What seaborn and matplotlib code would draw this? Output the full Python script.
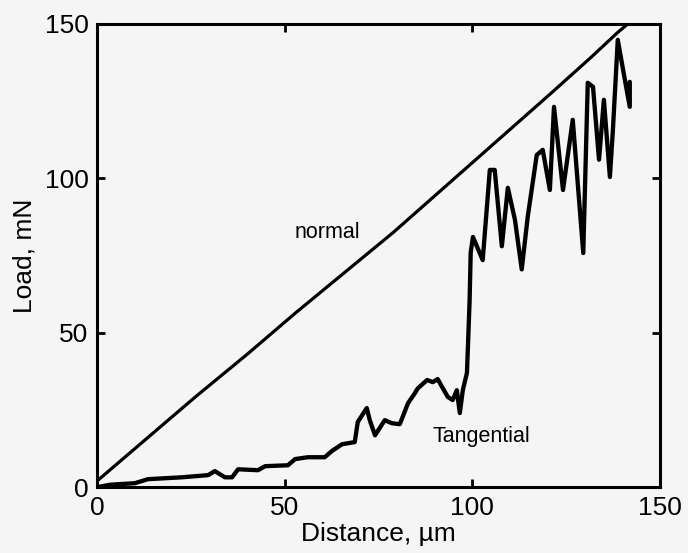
import pandas as pd
import seaborn as sns
import matplotlib.pyplot as plt

# normal load
normal_x = [0, 13, 26, 40, 53, 66, 79, 93, 107, 121, 132, 138.6, 142]
normal_y = [2, 15.5, 29, 43, 56.5, 69.5, 82.5, 97.5, 112.5, 127.5, 139.5, 147, 150.5]

# tangential load
tang_x = [0, 3.5, 10.1, 13.6, 22.6, 29.6, 31.4, 34.1, 36, 37.6, 42.9, 44.8, 50.9,
          52.8, 56.2, 60.7, 62.6, 65.3, 68.7, 69.5, 71.9, 72.7, 74.1, 76.7, 78.6,
          80.7, 82.9, 84.7, 85.5, 88, 89.5, 90.8, 92, 93.5, 94.8, 95.9, 96.7, 97.5,
          98.6, 99.3, 99.6, 100.2, 102.8, 104.7, 106, 107.9, 109.5, 111.4, 113.2,
          114.8, 117.2, 118.8, 120.7, 121.8, 124.2, 126.8, 129.6, 130.8, 132.2,
          133.8, 135.1, 136.7, 137.5, 138.8, 140.7, 142, 142]
tang_y = [0, 0.8, 1.3, 2.6, 3.2, 3.9, 5.2, 3.2, 3.2, 5.8, 5.5, 6.8, 7.1,
          9.1, 9.7, 9.7, 11.7, 13.9, 14.6, 21.1, 25.6, 21.7, 16.8, 21.7, 20.7,
          20.4, 27.2, 30.4, 32, 34.7, 34, 35, 32.4, 29.2, 28.2, 31.4, 24, 31.4,
          37, 60, 76, 81, 73.5, 102.7, 102.7, 78, 96.9, 86.5, 70.5,
          87.5, 107.5, 109.2, 96.2, 123.1, 96.2, 118.9, 75.8, 130.9, 129.6,
          106, 125.4, 100.4, 115.6, 144.8, 131.8, 123.1, 131.2]

df_n = pd.DataFrame({'Distance': normal_x, 'Load': normal_y})
df_t = pd.DataFrame({'Distance': tang_x, 'Load': tang_y})

sns.set_style('ticks')
plt.rcParams['font.family'] = ['Liberation Sans', 'DejaVu Sans']
plt.rcParams['text.color'] = 'black'
plt.rcParams['axes.labelcolor'] = 'black'

bg = '#f5f5f5'
fig = plt.figure(figsize=(6.88, 5.53), dpi=100, facecolor=bg)
ax = fig.add_axes([0.141, 0.119, 0.818, 0.838])
ax.set_facecolor(bg)

sns.lineplot(data=df_n, x='Distance', y='Load', ax=ax, color='black',
             linewidth=2.3, sort=False, estimator=None)
sns.lineplot(data=df_t, x='Distance', y='Load', ax=ax, color='black',
             linewidth=3.1, sort=False, estimator=None)

ax.text(61.3, 82.3, 'normal', fontsize=15.5, ha='center', va='center')
ax.text(89.5, 16.5, 'Tangential', fontsize=15.5, ha='left', va='center')

ax.set_xlim(0, 150)
ax.set_ylim(0, 150)
ax.set_xticks([0, 50, 100, 150])
ax.set_yticks([0, 50, 100, 150])
ax.tick_params(direction='in', length=6, width=2, labelsize=19, pad=6,
               top=True, right=True, colors='black')
ax.set_xlabel('Distance, µm', fontsize=19, labelpad=2)
ax.set_ylabel('Load, mN', fontsize=19, labelpad=6)
for s in ax.spines.values():
    s.set_linewidth(2.2)
    s.set_color('black')

plt.savefig('out.png', dpi=100, facecolor=bg)
